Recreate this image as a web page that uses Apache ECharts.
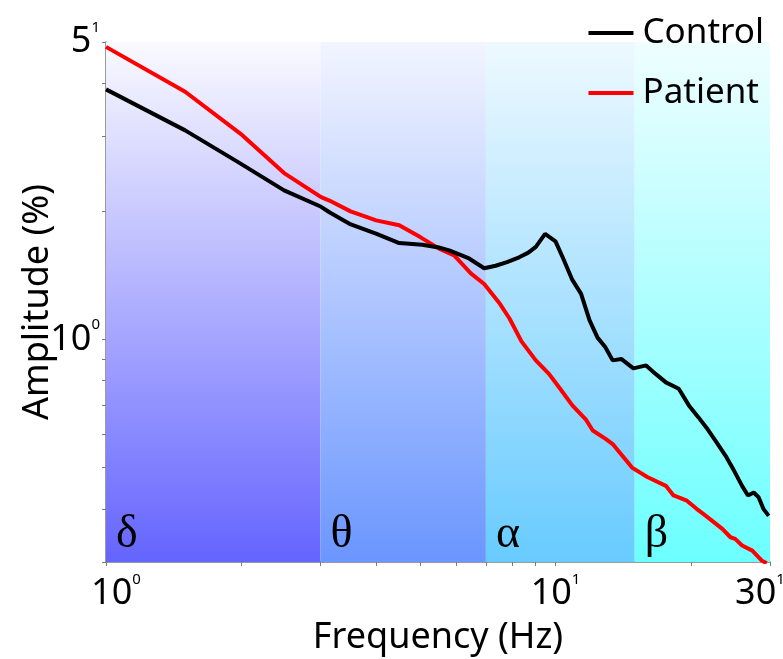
<!DOCTYPE html>
<html>
<head>
<meta charset="utf-8">
<script src="https://cdn.jsdelivr.net/npm/echarts@6/dist/echarts.min.js"></script>
<style>
    html, body { margin: 0; padding: 0; background: #fff; }
    #amp_chart { width: 783px; height: 659px; }
</style>
</head>
<body>
<div id="amp_chart"></div>
<script>
'use strict';

// frequency (Hz) / amplitude (%)
var controlFreq = [1.0, 1.5, 1.98, 2.49, 3.01, 3.14, 3.48, 4.0, 4.49, 5.05, 5.5, 5.8, 6.42, 6.94, 7.36, 7.8, 8.3, 8.7, 9.04, 9.48, 10.0, 10.4, 10.9, 11.4, 11.9, 12.4, 12.9, 13.4, 14.0, 14.9, 15.9, 16.7, 17.6, 18.8, 19.8, 20.8, 21.8, 22.7, 23.9, 25.0, 26.0, 26.8, 27.6, 28.3, 29.0, 29.8];
var controlAmp = [3.87, 3.10, 2.60, 2.24, 2.05, 1.99, 1.87, 1.77, 1.685, 1.67, 1.645, 1.62, 1.55, 1.47, 1.49, 1.52, 1.56, 1.60, 1.65, 1.77, 1.70, 1.55, 1.38, 1.28, 1.11, 1.01, 0.96, 0.893, 0.90, 0.855, 0.869, 0.83, 0.793, 0.766, 0.70, 0.656, 0.615, 0.578, 0.533, 0.49, 0.453, 0.43, 0.437, 0.426, 0.40, 0.385];

var patientFreq = [1.0, 1.5, 2.01, 2.49, 3.01, 3.14, 3.5, 3.99, 4.49, 5.0, 5.51, 5.95, 6.48, 6.94, 7.49, 7.9, 8.4, 9.04, 9.67, 10.2, 10.9, 11.7, 12.1, 12.9, 13.4, 14.8, 16.0, 17.6, 18.3, 19.6, 20.6, 21.6, 23.5, 24.5, 25.1, 26.0, 27.4, 28.8, 29.5];
var patientAmp = [4.87, 3.82, 3.02, 2.46, 2.16, 2.12, 2.00, 1.905, 1.855, 1.74, 1.635, 1.576, 1.43, 1.35, 1.22, 1.12, 0.99, 0.893, 0.83, 0.77, 0.70, 0.647, 0.611, 0.585, 0.568, 0.50, 0.475, 0.453, 0.43, 0.418, 0.40, 0.385, 0.359, 0.343, 0.34, 0.328, 0.319, 0.302, 0.298];

// EEG bands
var bandNames = ['δ', 'θ', 'α', 'β'];
var bandEdges = [1, 3, 7, 15, 30];
var bandTopColors = ['#fafaff', '#f2f5ff', '#eef9ff', '#effeff'];
var bandBottomColors = ['#6464ff', '#6b96ff', '#68cbff', '#6cffff'];

// axes
var xRange = [1, 30];
var yRange = [0.3, 5];
var xTickValues = [1, 2, 3, 4, 5, 6, 7, 8, 9, 10, 20, 30];
var yTickValues = [0.3, 0.4, 0.5, 0.6, 0.7, 0.8, 0.9, 1, 2, 3, 4, 5];
var xLabelValues = [1, 10, 30];
var xLabelBase = ['10', '10', '30'];
var xLabelExp = ['0', '1', '1'];
var yLabelValues = [1, 5];
var yLabelBase = ['10', '5'];
var yLabelExp = ['0', '1'];

function _map(arr, fn) {
    var out = [];
    for (var i = 0; i < arr.length; i++) { out.push(fn(arr[i], i)); }
    return out;
}
var zip = function (xs, ys) {
    return _map(xs, function (x, i) { return [x, ys[i]]; });
};
var nearestIndex = function (values, v) {
    var best = 0;
    for (var i = 1; i < values.length; i++) {
        if (Math.abs(Math.log(values[i] / v)) < Math.abs(Math.log(values[best] / v))) { best = i; }
    }
    return best;
};

var bandAreas = _map(bandNames, function (name, i) {
    return [
        {
            name: name,
            xAxis: bandEdges[i],
            itemStyle: {
                color: {
                    type: 'linear', x: 0, y: 0, x2: 0, y2: 1,
                    colorStops: [
                        {offset: 0, color: bandTopColors[i]},
                        {offset: 1, color: bandBottomColors[i]}
                    ]
                }
            }
        },
        {xAxis: bandEdges[i + 1]}
    ];
});

var tickLabelRich = {
    a: {fontFamily: 'Noto Sans', fontSize: 36, color: '#000', lineHeight: 44},
    b: {fontFamily: 'Noto Sans', fontSize: 15, color: '#000', verticalAlign: 'top', lineHeight: 18},
    s: {fontSize: 10, width: 20, color: 'rgba(0,0,0,0)', lineHeight: 44}
};

var amp_chart_option = {
    animation: false,
    backgroundColor: '#fff',
    grid: {
        left: 106,
        top: 42,
        width: 664,
        height: 520,
        containLabel: false,
        outerBoundsMode: 'none'
    },
    legend: {
        data: ['Control', 'Patient'],
        orient: 'vertical',
        right: 14,
        top: 8,
        itemWidth: 45,
        itemHeight: 4,
        itemGap: 20,
        icon: 'rect',
        textStyle: {
            fontFamily: 'Noto Sans',
            fontSize: 35,
            color: '#000',
            lineHeight: 40,
            padding: [0, 0, 0, 4]
        }
    },
    xAxis: {
        type: 'log',
        logBase: 10,
        min: xRange[0],
        max: xRange[1],
        name: 'Frequency (Hz)',
        nameLocation: 'middle',
        nameGap: 58,
        nameTextStyle: {fontFamily: 'Noto Sans', fontSize: 36, color: '#000'},
        axisLine: {lineStyle: {color: '#7a7a7a', width: 1.5}},
        axisTick: {
            customValues: xTickValues,
            length: 4,
            lineStyle: {color: '#7a7a7a'}
        },
        axisLabel: {
            customValues: xLabelValues,
            margin: 10,
            formatter: function (value) {
                var i = nearestIndex(xLabelValues, value);
                var text = '{a|' + xLabelBase[i] + '}{b|' + xLabelExp[i] + '}';
                // first and last labels sit a little off their tick in the figure
                if (i === 0) {
                    text = '{s|.}' + text;
                } else if (i === xLabelValues.length - 1) {
                    text = text + '{s|.}';
                }
                return text;
            },
            rich: tickLabelRich
        },
        splitLine: {show: false}
    },
    yAxis: {
        type: 'log',
        logBase: 10,
        min: yRange[0],
        max: yRange[1],
        name: 'Amplitude (%)',
        nameLocation: 'middle',
        nameGap: 50,
        nameMoveOverlap: false,
        nameTextStyle: {fontFamily: 'Noto Sans', fontSize: 36, color: '#000'},
        axisLine: {lineStyle: {color: '#7a7a7a', width: 1.5}},
        axisTick: {
            customValues: yTickValues,
            length: 4,
            lineStyle: {color: '#7a7a7a'}
        },
        axisLabel: {
            customValues: yLabelValues,
            margin: 6,
            formatter: function (value) {
                var i = nearestIndex(yLabelValues, value);
                return '{a|' + yLabelBase[i] + '}{b|' + yLabelExp[i] + '}';
            },
            rich: tickLabelRich
        },
        splitLine: {show: false}
    },
    series: [
        {
            name: 'bands',
            type: 'line',
            data: [],
            z: 1,
            markArea: {
                silent: true,
                label: {
                    show: true,
                    position: 'insideBottomLeft',
                    distance: 10,
                    offset: [0, 6],
                    formatter: '{b}',
                    fontFamily: 'Liberation Serif',
                    fontSize: 46,
                    color: '#000'
                },
                data: bandAreas
            }
        },
        {
            name: 'Control',
            type: 'line',
            z: 3,
            showSymbol: false,
            color: '#000',
            lineStyle: {color: '#000', width: 4},
            data: zip(controlFreq, controlAmp)
        },
        {
            name: 'Patient',
            type: 'line',
            z: 2,
            showSymbol: false,
            color: '#ff0000',
            lineStyle: {color: '#ff0000', width: 4},
            data: zip(patientFreq, patientAmp)
        }
    ]
};

var amp_chart = echarts.init(document.getElementById('amp_chart'));
amp_chart.setOption(amp_chart_option);
</script>
</body>
</html>
